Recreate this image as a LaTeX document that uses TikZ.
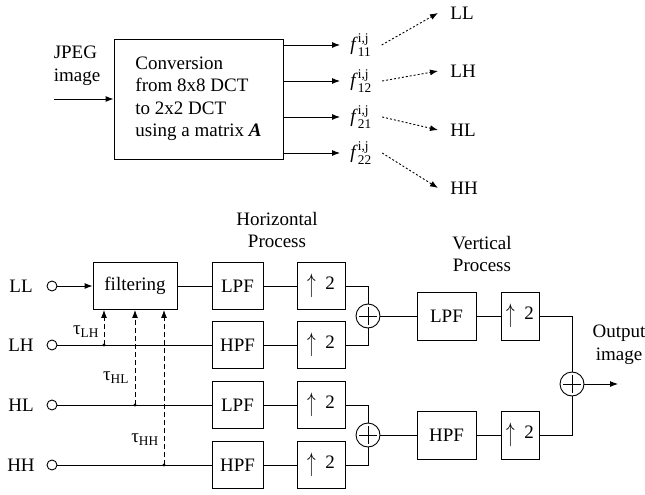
\documentclass[tikz,border=0pt]{standalone}
\usepackage{amsmath}
\usepackage{fontspec}
\setmainfont{Liberation Serif}
\usepackage{tikz}
\usetikzlibrary{positioning, arrows.meta}
\newcommand{\upby}{\raisebox{-3pt}{\scalebox{1}[1.55]{$\uparrow$}}\enspace 2}

\tikzset{
    block/.style={draw, minimum width=51pt, minimum height=47pt, inner sep=0pt},
    upblock/.style={draw, minimum width=48pt, minimum height=47pt, inner sep=0pt},
    port/.style={draw, circle, minimum size=10pt, inner sep=0pt},
    adder/.style={draw, circle, minimum size=24pt, inner sep=0pt,
        path picture={
            \draw ([xshift=-9pt]path picture bounding box.center) -- ([xshift=9pt]path picture bounding box.center);
            \draw ([yshift=-9pt]path picture bounding box.center) -- ([yshift=9pt]path picture bounding box.center);
        }},
    coef/.style={anchor=west, inner xsep=10pt, inner ysep=0pt},
    band/.style={anchor=west, inner xsep=12pt},
    dots/.style={dash pattern=on 2pt off 2pt},
    dashes/.style={dash pattern=on 5pt off 3pt},
    >={Latex[length=8pt, width=6pt]}
}

\begin{document}
\begin{tikzpicture}[x=1pt, y=-1pt, line width=0.9pt, font=\fontsize{19}{22.5}\selectfont]
            \useasboundingbox (0,0) rectangle (645,495);

            % conversion part
            \node [align=left] (jpeg) at (77,66) {JPEG\\image};
            \coordinate (in) at (54,99);
            \node [draw, minimum width=169pt, minimum height=120pt, align=left] (conv) at (198.5,99)
                {Conversion\\from 8x8 DCT\\to 2x2 DCT\\using a matrix \textbf{\textit{A}}};

            \node [coef] (f11) at (340,45) {\textit{f}$^{\text{i,j}}_{\text{11}}$};
            \node [coef] (f12) at (340,81) {\textit{f}$^{\text{i,j}}_{\text{12}}$};
            \node [coef] (f21) at (340,117) {\textit{f}$^{\text{i,j}}_{\text{21}}$};
            \node [coef] (f22) at (340,153) {\textit{f}$^{\text{i,j}}_{\text{22}}$};

            \node [band] (bLL) at (438,13) {LL};
            \node [band] (bLH) at (438,71) {LH};
            \node [band] (bHL) at (438,130) {HL};
            \node [band] (bHH) at (438,188) {HH};

            \draw [->] (in) -- (in -| conv.west);
            \draw [->] (conv.east |- f11) -- (f11.west);
            \draw [->] (conv.east |- f12) -- (f12.west);
            \draw [->] (conv.east |- f21) -- (f21.west);
            \draw [->] (conv.east |- f22) -- (f22.west);

            \draw [->, dots] (f11.east) -- (bLL.west);
            \draw [->, dots] (f12.east) -- (bLH.west);
            \draw [->, dots] (f21.east) -- (bHL.west);
            \draw [->, dots] (f22.east) -- (bHH.west);

            % synthesis part
            \node (LL) at (21,286) {LL};
            \node (LH) at (21,345) {LH};
            \node (HL) at (21,405) {HL};
            \node (HH) at (21,465) {HH};
            \node [port] (pLL) at (52,286) {};
            \node [port] (pLH) at (52,345) {};
            \node [port] (pHL) at (52,405) {};
            \node [port] (pHH) at (52,465) {};

            \node [draw, minimum width=84pt, minimum height=47pt] (filt) at (135,286) {filtering};

            \node [align=center] (hproc) at (277,230) {Horizontal\\Process};
            \node [block] (lpfA) at (237.5,286) {LPF};
            \node [block] (hpfA) at (237.5,345) {HPF};
            \node [block] (lpfB) at (237.5,405) {LPF};
            \node [block] (hpfB) at (237.5,465) {HPF};
            \node [upblock] (upA) at (321,286) {\upby};
            \node [upblock] (upB) at (321,345) {\upby};
            \node [upblock] (upC) at (321,405) {\upby};
            \node [upblock] (upD) at (321,465) {\upby};
            \node [adder] (sumA) at (368,316) {};
            \node [adder] (sumB) at (368,435) {};

            \node [align=center] (vproc) at (482,254) {Vertical\\Process};
            \node [block, minimum width=59pt, minimum height=48pt] (vlpf) at (446.5,316) {LPF};
            \node [block, minimum width=59pt, minimum height=48pt] (vhpf) at (446.5,435) {HPF};
            \node [block, minimum width=38pt, minimum height=48pt] (vupA) at (520,316) {\upby};
            \node [block, minimum width=38pt, minimum height=48pt] (vupB) at (520,435) {\upby};
            \node [adder] (sumC) at (572,384) {};
            \coordinate (out) at (618,384);
            \node [align=center] (outlbl) at (619,345) {Output\\image};

            \coordinate (tLH) at (104,345);
            \coordinate (tHL) at (135,405);
            \coordinate (tHH) at (164,465);
            \node (tauLH) at (86,332) {τ$_{\text{LH}}$};
            \node (tauHL) at (116,378) {τ$_{\text{HL}}$};
            \node (tauHH) at (145,440) {τ$_{\text{HH}}$};

            \draw [->] (pLL) -- (filt);
            \draw (filt) -- (lpfA);
            \draw (pLH) -- (hpfA);
            \draw (pHL) -- (lpfB);
            \draw (pHH) -- (hpfB);
            \draw (lpfA) -- (upA);
            \draw (hpfA) -- (upB);
            \draw (lpfB) -- (upC);
            \draw (hpfB) -- (upD);
            \draw (upA.east) -| (sumA);
            \draw (upB.east) -| (sumA);
            \draw (upC.east) -| (sumB);
            \draw (upD.east) -| (sumB);
            \draw (sumA) -- (vlpf);
            \draw (sumB) -- (vhpf);
            \draw (vlpf) -- (vupA);
            \draw (vhpf) -- (vupB);
            \draw (vupA.east) -| (sumC);
            \draw (vupB.east) -| (sumC);
            \draw [->] (sumC) -- (out);

            \fill (tLH) circle (1.6pt);
            \fill (tHL) circle (1.6pt);
            \fill (tHH) circle (1.6pt);
            \draw [->, dashes] (tLH) -- (tLH |- filt.south);
            \draw [->, dashes] (tHL) -- (tHL |- filt.south);
            \draw [->, dashes] (tHH) -- (tHH |- filt.south);
        \end{tikzpicture}
\end{document}
